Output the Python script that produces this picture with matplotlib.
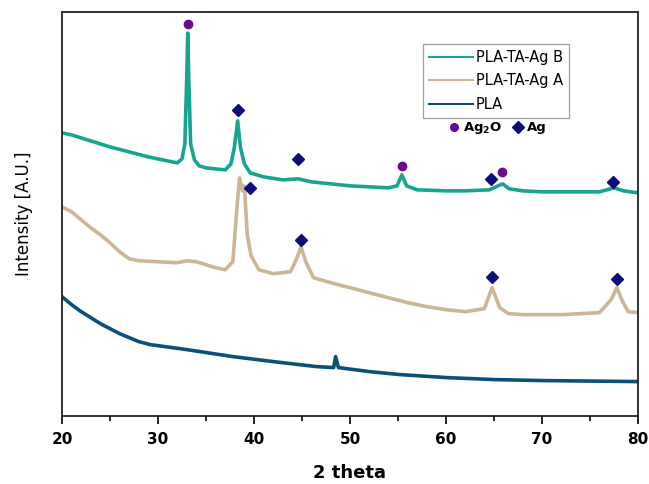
import matplotlib.pyplot as plt
from matplotlib.lines import Line2D

# XRD patterns, intensity in arbitrary units (curves are offset vertically)
x_b = [20, 21, 23, 25, 27, 29, 31, 32, 32.5, 32.8, 33.0, 33.1, 33.2, 33.4, 33.8, 34.3,
       35, 36, 37, 37.6, 37.95, 38.3, 38.6, 39.0, 39.6, 41, 43, 44.6, 46, 48, 50,
       52, 54, 54.9, 55.4, 55.9, 57, 60, 62, 64.5, 65.9, 66.6, 68, 70, 73, 76,
       77.5, 78.5, 80]
y_b = [283, 281, 275, 269, 264, 259, 255, 253, 257, 272, 340, 383, 340, 272, 256, 250,
       248, 247, 246, 252, 268, 295, 268, 252, 243, 239, 236, 237, 234, 232, 230,
       229, 228, 230, 241, 230, 226, 225, 225, 226, 232, 227, 225, 224, 224, 224,
       228, 225, 223]

x_a = [20, 21, 22, 23, 24, 25, 26, 27, 28, 30, 32, 33, 34, 35, 36, 37, 37.8, 38.2,
       38.5, 38.8, 39.0, 39.3, 39.7, 40.5, 42, 43.8, 44.4, 44.9, 45.4, 46.2, 48, 50,
       52, 54, 56, 58, 60, 62, 64.0, 64.8, 65.6, 66.5, 68, 72, 76, 77.2, 77.8, 78.4,
       79, 80]
y_a = [209, 204, 196, 188, 181, 173, 164, 157, 155, 154, 153, 155, 154, 151, 148, 146,
       154, 205, 238, 225, 230, 181, 160, 146, 142, 144, 156, 169, 154, 138, 133, 128,
       123, 118, 113, 109, 106, 104, 107, 128, 108, 102, 101, 101, 103, 116, 128, 114,
       104, 103]

x_pla = [20, 21, 22, 23, 24, 25, 26, 28, 29.2, 33, 37.8, 42, 46.5, 48.3, 48.5, 48.8,
         52, 55.2, 60, 65, 70, 80]
y_pla = [119, 111, 104, 98, 92, 87, 82, 74, 71, 66, 59, 54, 49, 48, 59, 48,
         44, 41, 38, 36, 35, 34]

# phase markers above the peaks
ag2o_x = [33.1, 55.4, 65.8]
ag2o_y = [392, 250, 244]
ag_x = [38.3, 44.6, 64.7, 77.4, 39.6, 44.9, 64.8, 77.8]
ag_y = [306, 257, 237, 234, 228, 176, 139, 137]

c_b = '#17a591'
c_a = '#cbb796'
c_pla = '#0b5177'
c_ag2o = '#6a0a8c'
c_ag = '#0c0c7a'

fig = plt.figure(figsize=(6.49, 4.84), dpi=100)
ax = fig.add_axes([0.0955, 0.1415, 0.8875, 0.8335])

l_b, = ax.plot(x_b, y_b, color=c_b, lw=2.6, label='PLA-TA-Ag B')
l_a, = ax.plot(x_a, y_a, color=c_a, lw=2.6, label='PLA-TA-Ag A')
l_p, = ax.plot(x_pla, y_pla, color=c_pla, lw=2.6, label='PLA')

ax.plot(ag2o_x, ag2o_y, 'o', color=c_ag2o, ms=6, ls='none')
ax.plot(ag_x, ag_y, 'D', color=c_ag, ms=6.5, ls='none')

ax.set_xlim(20, 80)
ax.set_ylim(0, 404)
ax.set_yticks([])
ax.set_xticks(range(20, 81, 10))
ax.set_xticks(range(25, 80, 10), minor=True)
ax.tick_params(axis='x', which='major', direction='out', length=6, width=1.2,
               labelsize=11, pad=6)
ax.tick_params(axis='x', which='minor', direction='out', length=3.5, width=1.2)
for lbl in ax.get_xticklabels():
    lbl.set_fontweight('bold')
for s in ax.spines.values():
    s.set_linewidth(1.3)
    s.set_color('#222222')

ax.set_xlabel('2 theta', fontsize=13, fontweight='bold', labelpad=12)
ax.set_ylabel('Intensity [A.U.]', fontsize=12, labelpad=21)

leg = ax.legend(handles=[l_b, l_a, l_p], loc='upper left',
                bbox_to_anchor=(0.627, 0.921), borderaxespad=0, fancybox=False,
                edgecolor='#888888', fontsize=10.5, handlelength=3.0,
                labelspacing=0.58, handletextpad=0.2, borderpad=0.4)
leg.get_frame().set_linewidth(0.9)
for h in leg.get_lines():
    h.set_linewidth(1.5)
ax.add_artist(leg)

phase_handles = [Line2D([], [], marker='o', color=c_ag2o, ls='none', ms=5.5),
                 Line2D([], [], marker='D', color=c_ag, ls='none', ms=6.5)]
ax.legend(handles=phase_handles, labels=['Ag$_\\mathbf{2}$O', 'Ag'], ncol=2,
          loc='upper left', bbox_to_anchor=(0.663, 0.745), borderaxespad=0,
          frameon=False, handlelength=0.8, handletextpad=0.25, columnspacing=0.8,
          prop={'weight': 'bold', 'size': 9.5})

fig.savefig('out.png', dpi=100)
